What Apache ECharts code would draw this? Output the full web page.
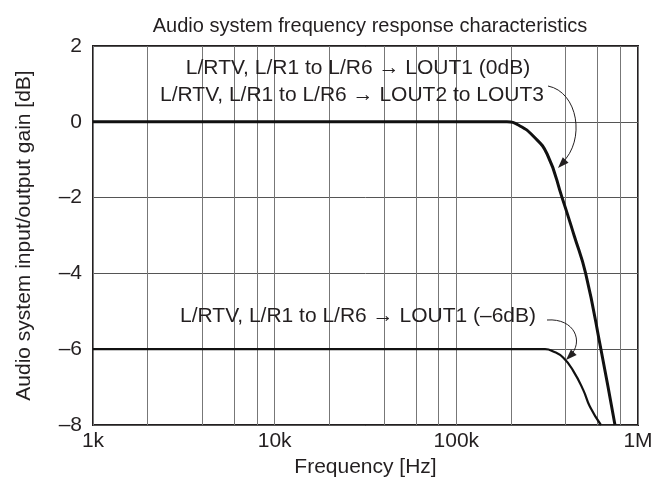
<!DOCTYPE html>
<html>
<head>
<meta charset="utf-8">
<script src="https://cdn.jsdelivr.net/npm/echarts@6/dist/echarts.min.js"></script>
<style>
  html, body { margin: 0; padding: 0; background: #fff; }
  #main { width: 662px; height: 488px; }
</style>
</head>
<body>
<div id="main"></div>
<script>
var myChart = echarts.init(document.getElementById('main'));
var fontName = "'Liberation Sans', Arial, sans-serif";
var ink = '#231f20';

// x axis ticks (Hz) and their labels
var xTicks = [1000, 10000, 100000, 1000000];
var xTickLabels = ['1k', '10k', '100k', '1M'];
// extra vertical grid lines (2, 4, 6, 8 of each decade)
var minorFreqs = [2000, 4000, 6000, 8000, 20000, 40000, 60000, 80000, 200000, 400000, 600000, 800000];

// LOUT1 (0dB) / LOUT2 to LOUT3
var freq0 = [1000, 100000, 190000, 224000, 264000, 316000, 382000, 445000, 515000, 625000, 747000];
var gain0 = [0, 0, 0, -0.11, -0.37, -0.85, -2.0, -3.0, -4.0, -6.0, -8.0];

// LOUT1 (-6dB)
var freq6 = [1000, 100000, 308000, 342000, 387000, 440000, 500000, 544000, 625000];
var gain6 = [-6, -6, -6, -6.06, -6.22, -6.57, -7.08, -7.52, -8.0];

var pairs = function(xs, ys) {
    var res = [];
    for (var i = 0; i < xs.length; i++) {
        res.push([xs[i], ys[i]]);
    }
    return res;
};

// arrow head from the last control point to the tip
var arrowHead = function(cx, cy, tx, ty) {
    var dx = tx - cx, dy = ty - cy;
    var len = Math.sqrt(dx * dx + dy * dy);
    dx /= len; dy /= len;
    var bx = tx - dx * 11, by = ty - dy * 11;
    return [[tx, ty], [bx - dy * 4, by + dx * 4], [bx + dy * 4, by - dx * 4]];
};

var textStyle = { fill: ink, font: '21px ' + fontName, align: 'center', verticalAlign: 'middle' };

option = {
    animation: false,
    title: {
        text: 'Audio system frequency response characteristics',
        left: 365,
        top: 11,
        textAlign: 'center',
        textStyle: { color: ink, fontFamily: fontName, fontSize: 20, fontWeight: 'normal' }
    },
    grid: {
        left: 93, right: 24, top: 46, bottom: 63,
        show: true,
        borderColor: ink,
        borderWidth: 2
    },
    xAxis: {
        type: 'log',
        logBase: 10,
        min: 1000,
        max: 1000000,
        name: 'Frequency [Hz]',
        nameLocation: 'middle',
        nameGap: 30,
        nameTextStyle: { color: ink, fontFamily: fontName, fontSize: 21 },
        axisLine: { show: false },
        axisTick: { show: false },
        axisLabel: {
            color: ink, fontFamily: fontName, fontSize: 21, margin: 6,
            formatter: function(v) {
                var i = xTicks.indexOf(Math.round(v));
                return i >= 0 ? xTickLabels[i] : '';
            }
        },
        splitLine: { show: true, lineStyle: { color: '#777', width: 1 } }
    },
    yAxis: {
        type: 'value',
        min: -8,
        max: 2,
        interval: 2,
        name: 'Audio system input/output gain [dB]',
        nameLocation: 'middle',
        nameGap: 58,
        nameTextStyle: { color: ink, fontFamily: fontName, fontSize: 21 },
        axisLine: { show: false },
        axisTick: { show: false },
        axisLabel: {
            color: ink, fontFamily: fontName, fontSize: 21, margin: 11,
            formatter: function(v) { return v < 0 ? '\u2013' + Math.abs(v) : String(v); }
        },
        splitLine: { show: true, lineStyle: { color: '#555', width: 1 } }
    },
    series: [
        {
            name: 'LOUT1 (0dB)',
            type: 'line',
            data: pairs(freq0, gain0),
            symbol: 'none',
            smooth: 0.5,
            z: 4,
            lineStyle: { color: '#111', width: 3 },
            markLine: {
                silent: true,
                z: 1,
                symbol: ['none', 'none'],
                label: { show: false },
                lineStyle: { color: '#777', width: 1, type: 'solid' },
                data: minorFreqs.map(function(f) { return { xAxis: f }; })
            }
        },
        {
            name: 'LOUT1 (-6dB)',
            type: 'line',
            data: pairs(freq6, gain6),
            symbol: 'none',
            smooth: 0.5,
            z: 4,
            lineStyle: { color: '#111', width: 2.2 }
        }
    ],
    graphic: [
        { type: 'text', x: 358, y: 68, style: Object.assign({ text: 'L/RTV, L/R1 to L/R6 \u2192 LOUT1 (0dB)' }, textStyle), silent: true, z: 10 },
        { type: 'text', x: 352, y: 95, style: Object.assign({ text: 'L/RTV, L/R1 to L/R6 \u2192 LOUT2 to LOUT3' }, textStyle), silent: true, z: 10 },
        { type: 'text', x: 358, y: 316, style: Object.assign({ text: 'L/RTV, L/R1 to L/R6 \u2192 LOUT1 (\u20136dB)' }, textStyle), silent: true, z: 10 },
        {
            type: 'bezierCurve', silent: true, z: 10,
            shape: { x1: 548, y1: 86, cpx1: 578, cpy1: 92, cpx2: 586, cpy2: 140, x2: 562, y2: 163 },
            style: { stroke: ink, lineWidth: 1, fill: null }
        },
        {
            type: 'polygon', silent: true, z: 10,
            shape: { points: arrowHead(585, 140, 558, 168) },
            style: { fill: ink }
        },
        {
            type: 'bezierCurve', silent: true, z: 10,
            shape: { x1: 547, y1: 320, cpx1: 575, cpy1: 318, cpx2: 584, cpy2: 342, x2: 570, y2: 356 },
            style: { stroke: ink, lineWidth: 1, fill: null }
        },
        {
            type: 'polygon', silent: true, z: 10,
            shape: { points: arrowHead(584, 342, 566, 360) },
            style: { fill: ink }
        }
    ]
};
myChart.setOption(option);
</script>
</body>
</html>
